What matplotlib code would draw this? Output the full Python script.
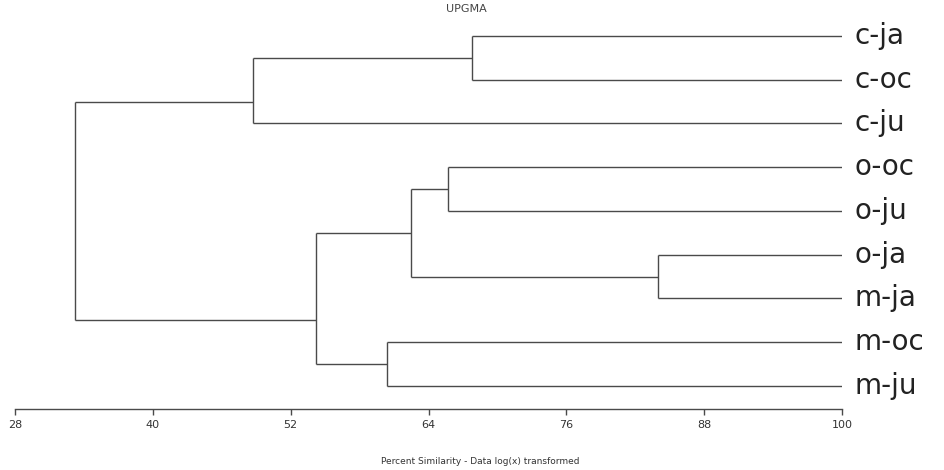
import matplotlib
matplotlib.use("Agg")
import matplotlib.pyplot as plt

# leaves, top to bottom
leaves = ['c-ja', 'c-oc', 'c-ju', 'o-oc', 'o-ju', 'o-ja', 'm-ja', 'm-oc', 'm-ju']

# merges (scipy style ids: new cluster = 9, 10, ...), joined at a percent similarity
merge_a = [0, 9, 3, 5, 11, 7, 13, 10]
merge_b = [1, 2, 4, 6, 12, 8, 14, 15]
merge_sim = [67.8, 48.7, 65.7, 84.0, 62.5, 60.4, 54.2, 33.2]

xticks = [28, 40, 52, 64, 76, 88, 100]

fig = plt.figure(figsize=(9.45, 4.7), dpi=100)
ax = fig.add_axes([0.0159, 0.1298, 0.8751, 0.8277])

line_col = '#4a4a4a'

# node positions: leaves sit at 100 % similarity
node_x = [100.0] * len(leaves)
node_y = list(range(len(leaves)))
node_n = [1] * len(leaves)

for a, b, s in zip(merge_a, merge_b, merge_sim):
    for c in (a, b):
        ax.plot([node_x[c], s], [node_y[c], node_y[c]], color=line_col, lw=1.0,
                solid_capstyle='butt')
    ax.plot([s, s], [node_y[a], node_y[b]], color=line_col, lw=1.0,
            solid_capstyle='butt')
    # the program that drew the original puts a join nearer the smaller branch
    na, nb = node_n[a], node_n[b]
    node_x.append(s)
    node_y.append((nb * node_y[a] + na * node_y[b]) / (na + nb))
    node_n.append(na + nb)

for i, name in enumerate(leaves):
    ax.text(101.05, i, name, fontsize=20, va='center', ha='left', color='#222222',
            family='DejaVu Sans')

ax.set_xlim(28, 100)
ax.set_ylim(8.526, -0.366)
ax.set_xticks(xticks)
ax.set_xticklabels([str(t) for t in xticks], fontsize=8, color='#333333')
ax.set_yticks([])
ax.tick_params(axis='x', direction='out', length=4, width=1, color=line_col, pad=4)
for side in ['top', 'right', 'left']:
    ax.spines[side].set_visible(False)
ax.spines['bottom'].set_color(line_col)
ax.spines['bottom'].set_linewidth(1.0)

fig.text(0.494, 1 - 9 / 470, 'UPGMA', fontsize=8, ha='center', va='center', color='#444444')
fig.text(0.508, 1 - 462 / 470, 'Percent Similarity - Data log(x) transformed',
         fontsize=6.5, ha='center', va='center', color='#333333')

fig.savefig('out.png', dpi=100)
